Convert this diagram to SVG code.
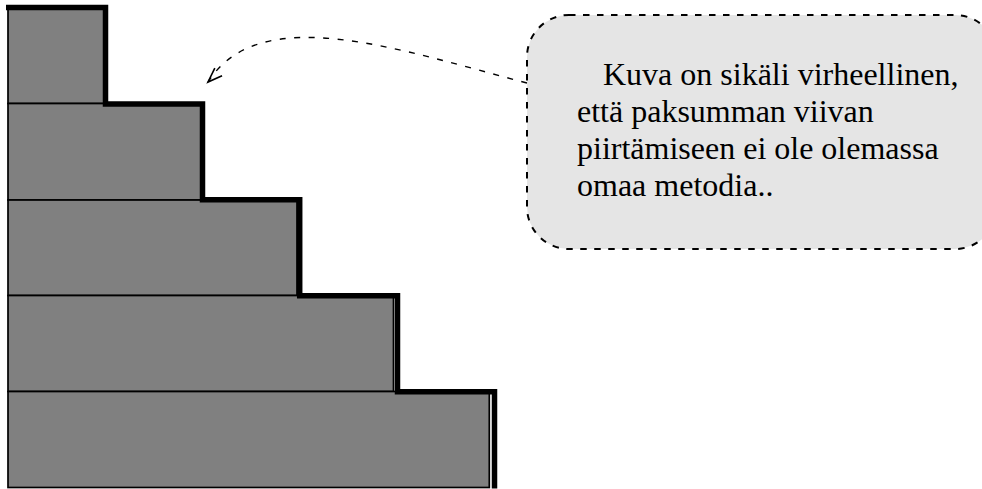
<svg xmlns="http://www.w3.org/2000/svg" width="982" height="489" viewBox="0 0 982 489">
  <style>
    .step { fill: #808080; stroke: #000; stroke-width: 1.7; }
    .thick { fill: none; stroke: #000; stroke-width: 5.5; stroke-linejoin: miter; stroke-linecap: butt; }
    .callout { fill: #e5e5e5; stroke: #000; stroke-width: 2; stroke-dasharray: 6.5 7.5; }
    .conn { fill: none; stroke: #000; stroke-width: 1.4; stroke-dasharray: 6 8.5; }
    .txt { font-family: "Liberation Serif", "Times New Roman", serif; font-size: 32px; fill: #000; }
  </style>
  <defs>
    <marker id="arrow" markerUnits="userSpaceOnUse" markerWidth="20" markerHeight="14" refX="0" refY="0" viewBox="-18 -7 20 14" orient="136" overflow="visible">
      <path d="M-14.5,-5.2 L0,0 L-14.5,5.2" fill="none" stroke="#000" stroke-width="1.6"/>
    </marker>
  </defs>
  <g id="stairs">
    <g id="step1"><rect class="step" x="8" y="8" width="96" height="95.5"/></g>
    <g id="step2"><rect class="step" x="8" y="103.5" width="193" height="96.5"/></g>
    <g id="step3"><rect class="step" x="8" y="200" width="289" height="95.5"/></g>
    <g id="step4"><rect class="step" x="8" y="295.5" width="385.5" height="96"/></g>
    <g id="step5"><rect class="step" x="8" y="391.5" width="481.3" height="96"/></g>
    <path id="outline" class="thick" d="M6,7.5 H105.5 V104 H202.5 V199.8 H299.7 V295.8 H397.5 V391.8 H494.5 V488.5"/>
  </g>
  <g id="note">
    <rect class="callout" x="527" y="15" width="470" height="234" rx="42" ry="42"/>
    <text class="txt" x="603" y="85">Kuva on sikäli virheellinen,</text>
    <text class="txt" x="577" y="122">että paksumman viivan</text>
    <text class="txt" x="577" y="159">piirtämiseen ei ole olemassa</text>
    <text class="txt" x="577" y="196">omaa metodia..</text>
  </g>
  <g id="connectors">
    <path class="conn" d="M527,83 C400,50 260,0 208,82" marker-end="url(#arrow)"/>
  </g>
</svg>
